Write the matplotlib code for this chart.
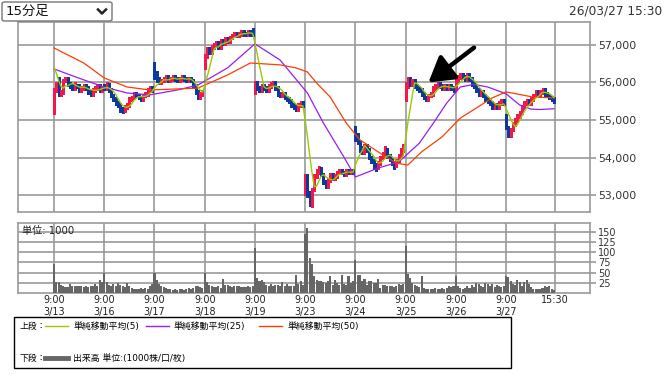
import numpy as np
import pandas as pd
import matplotlib
matplotlib.use("Agg")
import matplotlib.pyplot as plt
from matplotlib.patches import Rectangle, FancyBboxPatch
from matplotlib.lines import Line2D
from matplotlib.transforms import blended_transform_factory

plt.rcParams['font.family'] = ['DejaVu Sans', 'Noto Sans CJK JP']

# 15分足, 1日22本
days = ["3/13", "3/16", "3/17", "3/18", "3/19", "3/23", "3/24", "3/25", "3/26", "3/27"]
bars_per_day = 22

opens = [
    55200, 55800, 56100, 55700, 55750, 56050, 56100, 55950, 55900, 55850, 55950, 55900, 55800, 55850, 55900, 55850, 55750, 55700, 55800, 55850, 55900, 55800,  # 3/13
    55900, 55850, 55950, 55800, 55650, 55550, 55450, 55400, 55300, 55250, 55350, 55400, 55550, 55600, 55700, 55650, 55600, 55550, 55650, 55700, 55800, 55850,  # 3/16
    56500, 56250, 56100, 56000, 56050, 56100, 56150, 56050, 56100, 56150, 56100, 56050, 56100, 56150, 56100, 56050, 56100, 56050, 55900, 55750, 55600, 55700,  # 3/17
    56400, 56700, 56900, 56800, 56950, 57000, 57050, 56950, 57100, 57050, 57150, 57100, 57200, 57250, 57300, 57250, 57300, 57350, 57300, 57300, 57350, 57300,  # 3/18
    55750, 56000, 55850, 55800, 55900, 55850, 55800, 55900, 55950, 56000, 55850, 55700, 55650, 55700, 55600, 55550, 55500, 55400, 55350, 55300, 55400, 55450,  # 3/19
    53050, 53500, 53050, 52800, 53150, 53500, 53600, 53700, 53550, 53350, 53250, 53400, 53550, 53450, 53500, 53600, 53650, 53600, 53550, 53650, 53600, 53650,  # 3/23
    54800, 54600, 54400, 54250, 54150, 54300, 54200, 54000, 53900, 53800, 53750, 53850, 54000, 54100, 54200, 54050, 53950, 53850, 53800, 53900, 54050, 54200,  # 3/24
    55550, 55900, 56100, 55950, 56050, 55900, 55850, 55800, 55700, 55600, 55550, 55650, 55700, 55850, 55900, 55950, 55900, 55850, 55900, 55850, 55900, 55850,  # 3/25
    55850, 56050, 56150, 56200, 56150, 56100, 56200, 56100, 55950, 55900, 55800, 55700, 55750, 55650, 55550, 55500, 55450, 55350, 55400, 55350, 55450, 55500,  # 3/26
    55150, 54800, 54650, 54750, 54900, 55000, 55100, 55200, 55350, 55450, 55500, 55450, 55550, 55650, 55750, 55700, 55750, 55800, 55700, 55650, 55600, 55550,  # 3/27
]
highs = [
    55850, 56000, 56150, 55800, 56100, 56150, 56150, 56000, 55950, 56000, 55950, 55950, 55900, 55950, 55950, 55900, 55800, 55850, 55900, 55950, 55950, 55900,
    55950, 56000, 55990, 55850, 55700, 55600, 55500, 55450, 55350, 55400, 55450, 55600, 55650, 55750, 55750, 55700, 55650, 55700, 55750, 55850, 55900, 55900,
    56550, 56300, 56150, 56100, 56150, 56200, 56200, 56150, 56200, 56200, 56150, 56150, 56200, 56200, 56150, 56150, 56150, 56100, 55950, 55800, 55750, 55800,
    56750, 56950, 56950, 57000, 57050, 57100, 57100, 57150, 57150, 57200, 57200, 57250, 57300, 57350, 57350, 57350, 57400, 57400, 57350, 57400, 57400, 57450,
    56050, 56050, 55900, 55950, 55950, 55900, 55950, 56000, 56050, 56050, 55900, 55750, 55750, 55750, 55650, 55600, 55550, 55450, 55400, 55450, 55500, 55500,
    53550, 53550, 53100, 53200, 53550, 53700, 53780, 53750, 53600, 53400, 53450, 53600, 53600, 53550, 53650, 53700, 53700, 53650, 53700, 53700, 53700, 53700,
    54850, 54650, 54450, 54300, 54350, 54350, 54250, 54050, 53950, 53850, 53900, 54050, 54150, 54300, 54250, 54100, 54000, 53900, 53950, 54100, 54250, 54350,
    56000, 56150, 56150, 56100, 56100, 55950, 55900, 55850, 55750, 55650, 55700, 55750, 55900, 55950, 56000, 56000, 55950, 55950, 55950, 55950, 55950, 55900,
    56100, 56200, 56250, 56250, 56200, 56250, 56250, 56150, 56000, 55950, 55850, 55800, 55800, 55700, 55600, 55550, 55500, 55450, 55450, 55500, 55550, 55550,
    55150, 54850, 54800, 54950, 55050, 55150, 55250, 55400, 55500, 55550, 55550, 55600, 55700, 55800, 55800, 55800, 55850, 55850, 55750, 55700, 55650, 55600,
]
lows = [
    55150, 55750, 55650, 55650, 55700, 56000, 55900, 55850, 55800, 55800, 55850, 55750, 55750, 55800, 55800, 55700, 55650, 55650, 55750, 55800, 55750, 55750,
    55800, 55800, 55750, 55600, 55500, 55400, 55350, 55200, 55180, 55200, 55300, 55350, 55500, 55550, 55600, 55550, 55500, 55500, 55600, 55650, 55750, 55750,
    56100, 56000, 55950, 55950, 56000, 56050, 56000, 56000, 56050, 56050, 56000, 56000, 56050, 56050, 56000, 56000, 56000, 55850, 55700, 55550, 55550, 55650,
    56350, 56650, 56750, 56750, 56900, 56950, 56900, 56900, 57000, 57000, 57050, 57050, 57150, 57200, 57200, 57200, 57250, 57250, 57250, 57250, 57250, 57250,
    55700, 55800, 55750, 55750, 55800, 55750, 55750, 55850, 55900, 55800, 55650, 55600, 55600, 55550, 55500, 55450, 55350, 55300, 55250, 55250, 55350, 55350,
    53000, 52950, 52700, 52680, 53100, 53450, 53550, 53500, 53300, 53200, 53200, 53350, 53400, 53400, 53450, 53550, 53550, 53500, 53500, 53550, 53550, 53550,
    54450, 54350, 54150, 54100, 54100, 54150, 53950, 53850, 53700, 53650, 53700, 53800, 53950, 54050, 54000, 53900, 53800, 53700, 53750, 53850, 54000, 54150,
    55500, 55850, 55900, 55900, 55850, 55800, 55750, 55650, 55550, 55500, 55500, 55600, 55650, 55800, 55850, 55850, 55800, 55800, 55800, 55800, 55800, 55750,
    55800, 56000, 56100, 56100, 56050, 56050, 56050, 55900, 55850, 55750, 55650, 55650, 55600, 55500, 55450, 55400, 55300, 55300, 55280, 55300, 55400, 55400,
    54750, 54550, 54550, 54700, 54850, 54950, 55050, 55150, 55300, 55400, 55400, 55400, 55500, 55600, 55650, 55650, 55700, 55650, 55600, 55550, 55500, 55450,
]
closes = [
    55800, 55950, 55700, 55750, 56050, 56100, 55950, 55900, 55850, 55950, 55900, 55800, 55850, 55900, 55850, 55750, 55700, 55800, 55850, 55900, 55800, 55850,
    55850, 55950, 55800, 55650, 55550, 55450, 55400, 55300, 55250, 55350, 55400, 55550, 55600, 55700, 55650, 55600, 55550, 55650, 55700, 55800, 55850, 55800,
    56150, 56050, 56000, 56050, 56100, 56150, 56050, 56100, 56150, 56100, 56050, 56100, 56150, 56100, 56050, 56100, 56050, 55900, 55750, 55600, 55700, 55750,
    56700, 56900, 56800, 56950, 57000, 57050, 56950, 57100, 57050, 57150, 57100, 57200, 57250, 57300, 57250, 57300, 57350, 57300, 57300, 57350, 57300, 57300,
    56000, 55850, 55800, 55900, 55850, 55800, 55900, 55950, 56000, 55850, 55700, 55650, 55700, 55600, 55550, 55500, 55400, 55350, 55300, 55400, 55450, 55400,
    53500, 53050, 52900, 53150, 53500, 53600, 53700, 53550, 53350, 53250, 53400, 53550, 53450, 53500, 53600, 53650, 53600, 53550, 53650, 53600, 53650, 53600,
    54500, 54400, 54250, 54150, 54300, 54200, 54000, 53900, 53800, 53750, 53850, 54000, 54100, 54200, 54050, 53950, 53850, 53800, 53900, 54050, 54200, 54300,
    55950, 56100, 55950, 56050, 55900, 55850, 55800, 55700, 55600, 55550, 55650, 55700, 55850, 55900, 55950, 55900, 55850, 55900, 55850, 55900, 55850, 55800,
    56050, 56150, 56200, 56150, 56100, 56200, 56100, 55950, 55900, 55800, 55700, 55750, 55650, 55550, 55500, 55450, 55350, 55400, 55350, 55450, 55500, 55450,
    54800, 54650, 54750, 54900, 55000, 55100, 55200, 55350, 55450, 55500, 55450, 55550, 55650, 55750, 55700, 55750, 55800, 55700, 55650, 55600, 55550, 55500,
]
# 出来高 (1000株)
volume = [
    70, 28, 26, 20, 17, 14, 15, 21, 18, 18, 17, 18, 16, 15, 17, 14, 18, 16, 21, 17, 33, 26,
    48, 26, 20, 17, 21, 18, 25, 20, 17, 15, 25, 18, 13, 10, 11, 9, 12, 10, 13, 11, 17, 21,
    48, 33, 21, 17, 15, 12, 10, 9, 8, 10, 7, 9, 11, 8, 10, 12, 9, 12, 18, 18, 14, 12,
    50, 26, 20, 17, 15, 14, 18, 13, 35, 19, 20, 17, 15, 18, 16, 17, 14, 15, 14, 16, 14, 18,
    111, 37, 29, 33, 26, 20, 18, 21, 17, 19, 20, 18, 26, 17, 21, 18, 16, 17, 43, 22, 29, 20,
    145, 160, 86, 70, 41, 33, 30, 29, 26, 24, 30, 41, 20, 33, 25, 20, 45, 22, 20, 41, 24, 30,
    80, 43, 43, 29, 35, 20, 29, 29, 25, 25, 35, 12, 20, 20, 18, 18, 18, 15, 17, 22, 19, 23,
    115, 47, 37, 25, 20, 17, 14, 41, 12, 10, 11, 9, 10, 12, 11, 9, 12, 10, 12, 17, 14, 17,
    41, 17, 12, 10, 12, 17, 13, 20, 14, 25, 21, 17, 14, 25, 21, 18, 21, 14, 20, 17, 15, 18,
    41, 39, 29, 22, 20, 32, 26, 18, 26, 33, 21, 14, 11, 9, 10, 11, 12, 17, 14, 17, 11, 8,
]
# 3/12 の終値 (MA5用)
prev_closes = [56700, 56700, 56500, 56300]

# 移動平均 (25), (50) 読み取り値
ma25_bar = [0, 13, 22, 32, 42, 54, 63, 76, 88, 99, 111, 118, 127, 132, 142, 151, 160, 166, 172, 178, 184, 190, 198, 204, 209, 213, 219]
ma25_val = [56360, 56070, 55880, 55720, 55670, 55800, 55930, 56390, 57030, 56600, 55720, 54920, 54010, 53480, 53720, 53880, 54380, 54900, 55450, 55880, 55950, 55880, 55700, 55400, 55290, 55280, 55300]
ma50_bar = [0, 13, 22, 32, 42, 63, 76, 86, 99, 106, 111, 115, 121, 128, 134, 144, 150, 155, 161, 170, 178, 185, 192, 198, 210, 219]
ma50_val = [56920, 56520, 56120, 55880, 55800, 55850, 56200, 56520, 56470, 56390, 56280, 55990, 55610, 54920, 54470, 54070, 53850, 53800, 54150, 54550, 55050, 55320, 55590, 55750, 55610, 55590]

# 矢印
arrow_tip = (164, 56000)
arrow_tail = (184, 56930)

RED = '#f5164a'
BLUE = '#0b3a9e'
GRID = '#9a9a9a'

W, H = 666, 376
fig = plt.figure(figsize=(W / 100, H / 100), dpi=100)


def fx(px):
    return px / W


def fy(py):
    return 1 - py / H


ax = fig.add_axes([fx(18), fy(212), fx(590) - fx(18), fy(22) - fy(212)])
axv = fig.add_axes([fx(18), fy(293), fx(590) - fx(18), fy(223) - fy(293)])

n = len(closes)
x = np.arange(n)
o = np.array(opens)
c = np.array(closes)
up = c > o
col = np.where(up, RED, BLUE)
body_lo = np.minimum(o, c)
body_h = np.maximum(np.abs(c - o), 10)

grid_x = [bars_per_day * d for d in range(len(days))] + [n - 0.5]

# ローソク足
ax.vlines(x, lows, highs, colors=col, lw=1.0, zorder=3, antialiased=False)
ax.bar(x, body_h, bottom=body_lo, width=0.9, color=col, lw=0, zorder=3,
       antialiased=False)

ma5 = pd.Series(prev_closes + closes).rolling(5).mean().to_numpy()[len(prev_closes):]
ax.plot(x, ma5, color='#99cc00', lw=1.0, zorder=5)
ax.plot(ma25_bar, ma25_val, color='#9a1cf5', lw=0.9, zorder=4)
ax.plot(ma50_bar, ma50_val, color='#ff3c00', lw=0.9, zorder=4)

ax.annotate("", xy=arrow_tip, xytext=arrow_tail,
            arrowprops=dict(arrowstyle="-|>,head_length=0.75,head_width=0.45",
                            lw=3.2, color='black', mutation_scale=20,
                            shrinkA=0, shrinkB=0), zorder=6)

ax.set_xlim(-15.8, 234.8)
ax.set_ylim(52547, 57613)
ax.set_yticks([53000, 54000, 55000, 56000, 57000])
ax.set_yticklabels([f"{v:,}" for v in [53000, 54000, 55000, 56000, 57000]])

# 出来高
axv.bar(x, volume, width=0.9, color='#666666', lw=0, zorder=3, antialiased=False)
axv.set_xlim(-15.8, 234.8)
axv.set_ylim(0, 171.5)
axv.set_yticks([25, 50, 75, 100, 125, 150])
axv.text(0.007, 0.88, "単位: 1000", transform=axv.transAxes, fontsize=7.3,
         va='center', ha='left', color='#222')

for a, fs in ((ax, 7.8), (axv, 7)):
    a.set_xticks(grid_x)
    a.tick_params(axis='x', length=0, labelbottom=False)
    a.yaxis.tick_right()
    a.tick_params(axis='y', length=4, width=1.2, color=GRID, labelsize=fs,
                  labelcolor='#333333', pad=2)
    a.grid(True, color=GRID, lw=1.2)
    a.set_axisbelow(True)
    for s in a.spines.values():
        s.set_color(GRID)
        s.set_linewidth(1.2)

# 時刻・日付ラベル
tr = blended_transform_factory(axv.transData, fig.transFigure)
for d, day in enumerate(days):
    fig.text(grid_x[d], fy(300), "9:00", transform=tr, ha='center', va='center',
             fontsize=6.9, color='#222')
    fig.text(grid_x[d], fy(312.5), day, transform=tr, ha='center', va='center',
             fontsize=6.9, color='#222')
fig.text(grid_x[-1], fy(300), "15:30", transform=tr, ha='center', va='center',
         fontsize=6.9, color='#222')

# 上部
fig.patches.append(FancyBboxPatch((fx(2), fy(21)), fx(110), (21 - 2) / H,
                                  boxstyle="round,pad=0,rounding_size=0.004",
                                  transform=fig.transFigure, ec='#767676',
                                  fc='white', lw=1))
fig.text(fx(6), fy(11.5), "15分足", fontsize=9.5, va='center', ha='left', color='#111')
fig.lines.append(Line2D([fx(98), fx(102), fx(106)], [fy(9.5), fy(13.5), fy(9.5)],
                        transform=fig.transFigure, color='#222', lw=1.8))
fig.text(fx(662), fy(10.5), "26/03/27 15:30", ha='right', va='center',
         fontsize=8.7, color='#333333')

# 凡例
fig.patches.append(Rectangle((fx(14), fy(368)), fx(511) - fx(14), fy(317) - fy(368),
                             transform=fig.transFigure, fill=False, ec='black', lw=1))
legend_fs = 6.4
fig.text(fx(20), fy(326), "上段：", fontsize=legend_fs, va='center')
for x0, colr, label in ((45, '#99cc00', "単純移動平均(5)"),
                        (146, '#9a1cf5', "単純移動平均(25)"),
                        (259, '#ff3c00', "単純移動平均(50)")):
    fig.lines.append(Line2D([fx(x0), fx(x0 + 23)], [fy(326), fy(326)],
                            transform=fig.transFigure, color=colr, lw=1))
    fig.text(fx(x0 + 28), fy(326), label, fontsize=legend_fs, va='center')
fig.text(fx(20), fy(358), "下段：", fontsize=legend_fs, va='center')
fig.lines.append(Line2D([fx(45), fx(68)], [fy(358), fy(358)],
                        transform=fig.transFigure, color='#666666', lw=3.5))
fig.text(fx(73), fy(358), "出来高 単位:(1000株/口/枚)", fontsize=legend_fs, va='center')

fig.savefig("out.png", dpi=100)
